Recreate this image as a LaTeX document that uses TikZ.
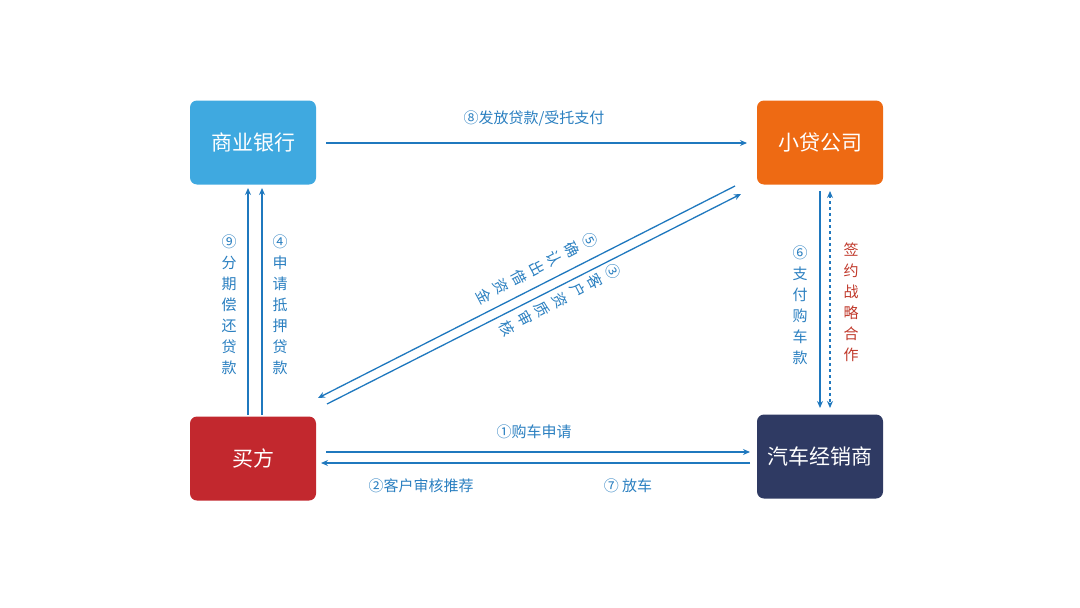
\documentclass[tikz,border=0pt]{standalone}
\usepackage{fontspec}
\setmainfont{Noto Sans CJK SC}
\usetikzlibrary{arrows.meta}
\definecolor{cbank}{HTML}{3FA9E0}
\definecolor{cloan}{HTML}{EE6A13}
\definecolor{cbuy}{HTML}{C2282E}
\definecolor{cdeal}{HTML}{2F3A63}
\definecolor{cline}{HTML}{1F78BE}
\definecolor{clab}{HTML}{2A7FC0}
\definecolor{cred}{HTML}{C0392B}
\begin{document}
\begin{tikzpicture}[x=1pt,y=-1pt,
 box/.style={draw=none,rounded corners=7pt,minimum width=126pt,minimum height=84pt,text=white,font=\fontsize{21}{24}\selectfont},
 arr/.style={draw=cline,line width=1.3pt,-{Stealth[length=7pt,width=6pt]}},
 lab/.style={text=clab,font=\fontsize{15}{17}\selectfont},
 vlab/.style={text=clab,font=\fontsize{15}{21}\selectfont,align=center,inner sep=0pt}]
\useasboundingbox (0,0) rectangle (1080,608);
\node[box,fill=cbank] (bank) at (253,142.5) {商业银行};
\node[box,fill=cloan] (loan) at (820,142.5) {小贷公司};
\node[box,fill=cbuy] (buy) at (253,458.5) {买方};
\node[box,fill=cdeal] (deal) at (820,456.5) {汽车经销商};
% top
\draw[arr] (326,143) -- (747,143);
\node[lab] (l8) at (534,118) {⑧发放贷款/受托支付};
% bottom
\draw[arr] (326,452) -- (750,452);
\draw[arr] (750,463) -- (321,463);
\node[lab] (l1) at (534,432) {①购车申请};
\node[lab] (l2) at (421,486) {②客户审核推荐};
\node[lab] (l7) at (628,486) {⑦ 放车};
% left
\draw[arr] (248,415) -- (248,188);
\draw[arr] (262,415) -- (262,188);
\node[vlab] (l9) at (229,305) {⑨\\分\\期\\偿\\还\\贷\\款};
\node[vlab] (l4) at (280,305) {④\\申\\请\\抵\\押\\贷\\款};
% right
\draw[arr] (820,191) -- (820,408);
\draw[draw=cline,line width=1.3pt,dashed,{Stealth[length=7pt,width=6pt]}-{Stealth[length=7pt,width=6pt]}] (830,191) -- (830,408);
\node[vlab] (l6) at (800,305) {⑥\\支\\付\\购\\车\\款};
\node[vlab,text=cred] (ls) at (851,302) {签\\约\\战\\略\\合\\作};
% diagonal
\draw[arr] (735,186) -- (318,398);
\draw[arr] (327,404) -- (741,194);
\node[vlab,rotate=-62,font=\fontsize{15}{20}\selectfont] (l5) at (537,268) {⑤\\确\\认\\出\\借\\资\\金};
\node[vlab,rotate=-62,font=\fontsize{15}{20}\selectfont] (l3) at (560,300) {③\\客\\户\\资\\质\\审\\核};
\end{tikzpicture}
\end{document}
